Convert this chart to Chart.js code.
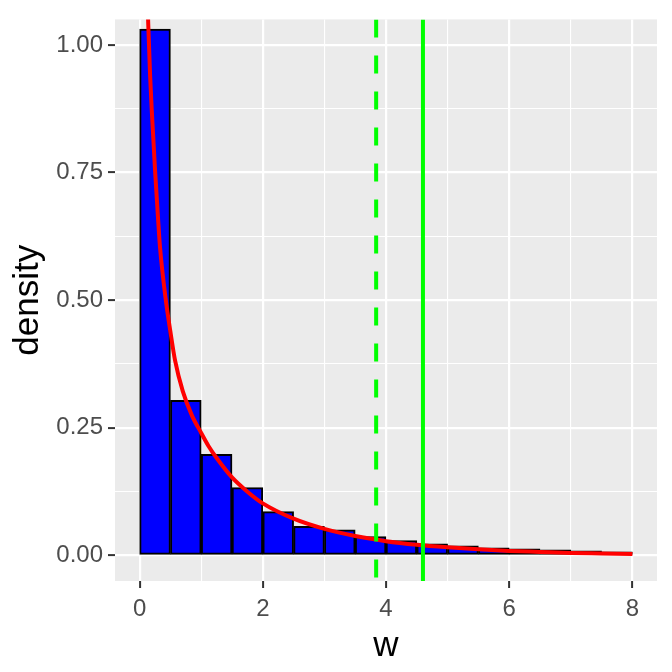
<!DOCTYPE html>
<html>
<head>
<meta charset="utf-8">
<script src="https://cdn.jsdelivr.net/npm/chart.js@4.4.1/dist/chart.umd.min.js"></script>
<style>
html,body{margin:0;padding:0;background:#ffffff;}
#wrap{width:672px;height:672px;}
</style>
</head>
<body>
<div id="wrap"><canvas id="chart" width="672" height="672"></canvas></div>
<script>
// histogram: bin centres (width 0.5) and densities
var binCentres=[0.25,0.75,1.25,1.75,2.25,2.75,3.25,3.75,4.25,4.75,5.25,5.75,6.25,6.75,7.25,7.75];
var binDensity=[1.031,0.304,0.198,0.133,0.086,0.057,0.050,0.037,0.029,0.023,0.019,0.015,0.013,0.011,0.009,0.007];

// red density curve
var curveX=[0.12,0.14,0.17,0.2,0.25,0.3,0.33,0.42,0.5,0.575,0.7,0.85,1,1.12,1.25,1.5,1.75,2,2.5,3,3.5,4,4.5,5,5.5,6,6.5,7,7.5,8];
var curveY=[1.12,1.04,0.94,0.865,0.755,0.658,0.605,0.505,0.438,0.382,0.322,0.274,0.240,0.214,0.191,0.153,0.125,0.102,0.072,0.052,0.038,0.028,0.021,0.016,0.012,0.009,0.007,0.005,0.004,0.003];

// vertical reference lines
var critDashed=3.84;
var critSolid=4.6;

// axes
var xLimits=[-0.4,8.4];
var yLimits=[-0.05,1.05];
var xTicks=[0,1,2,3,4,5,6,7,8];
var xMajor=[0,2,4,6,8];
var yTicks=[0,0.125,0.25,0.375,0.5,0.625,0.75,0.875,1];
var yMajor=[0,0.25,0.5,0.75,1];

var FONT="'Liberation Sans', Arial, Helvetica, sans-serif";

function isMajor(list,v){
	for(var i=0;i<list.length;i++){ if(Math.abs(list[i]-v)<1e-9) return true; }
	return false;
}

var panelBg={
	id:'panelBg',
	beforeDraw:function(chart){
		var a=chart.chartArea, c=chart.ctx;
		c.save();
		c.fillStyle='#EBEBEB';
		c.fillRect(a.left,a.top,a.right-a.left,a.bottom-a.top);
		c.restore();
	}
};

var histData=binCentres.map(function(c,i){ return {x:c,y:binDensity[i]}; });
var curveData=curveX.map(function(x,i){ return {x:x,y:curveY[i]}; });

new Chart(document.getElementById('chart').getContext('2d'),{
	type:'bar',
	data:{
		datasets:[
			{type:'line',data:[{x:critSolid,y:yLimits[1]},{x:critSolid,y:yLimits[0]}],borderColor:'#00FF00',borderWidth:4,pointRadius:0,order:0},
			{type:'line',data:[{x:critDashed,y:yLimits[1]},{x:critDashed,y:yLimits[0]}],borderColor:'#00FF00',borderWidth:4,borderDash:[18,18],pointRadius:0,order:0},
			{type:'line',data:curveData,borderColor:'#FF0000',borderWidth:4,pointRadius:0,cubicInterpolationMode:'monotone',order:1},
			{type:'bar',data:histData,backgroundColor:'#0000FF',borderColor:'#000000',borderWidth:2,borderSkipped:false,barPercentage:1,categoryPercentage:1,order:2}
		]
	},
	options:{
		responsive:false,
		animation:false,
		devicePixelRatio:1,
		layout:{padding:{top:15,right:15,left:0,bottom:0}},
		plugins:{legend:{display:false},tooltip:{enabled:false}},
		scales:{
			x:{
				type:'linear',min:xLimits[0],max:xLimits[1],offset:false,
				afterBuildTicks:function(s){ s.ticks=xTicks.map(function(v){return {value:v};}); },
				afterFit:function(s){ s.height=91; },
				border:{display:false},
				grid:{
					offset:false,drawTicks:true,tickLength:7,
					color:'#FFFFFF',
					lineWidth:function(ctx){ return isMajor(xMajor,ctx.tick.value)?2.2:1.1; },
					tickColor:function(ctx){ return isMajor(xMajor,ctx.tick.value)?'#333333':'rgba(0,0,0,0)'; },
					tickWidth:2
				},
				ticks:{
					autoSkip:false,maxRotation:0,padding:7,color:'#4D4D4D',
					font:{family:FONT,size:24},
					callback:function(v){ return isMajor(xMajor,v)?String(v):''; }
				},
				title:{display:true,text:'w',color:'#000000',font:{family:FONT,size:35},padding:{top:0,bottom:5}}
			},
			y:{
				type:'linear',min:yLimits[0],max:yLimits[1],
				afterBuildTicks:function(s){ s.ticks=yTicks.map(function(v){return {value:v};}); },
				afterFit:function(s){ s.width=115; },
				border:{display:false},
				grid:{
					drawTicks:true,tickLength:7,
					color:'#FFFFFF',
					lineWidth:function(ctx){ return isMajor(yMajor,ctx.tick.value)?2.2:1.1; },
					tickColor:function(ctx){ return isMajor(yMajor,ctx.tick.value)?'#333333':'rgba(0,0,0,0)'; },
					tickWidth:2
				},
				ticks:{
					autoSkip:false,padding:5,color:'#4D4D4D',
					font:{family:FONT,size:24},
					callback:function(v){ return isMajor(yMajor,v)?v.toFixed(2):''; }
				},
				title:{display:true,text:'density',color:'#000000',font:{family:FONT,size:35},padding:{top:7,bottom:0}}
			}
		}
	},
	plugins:[panelBg]
});
</script>
</body>
</html>
